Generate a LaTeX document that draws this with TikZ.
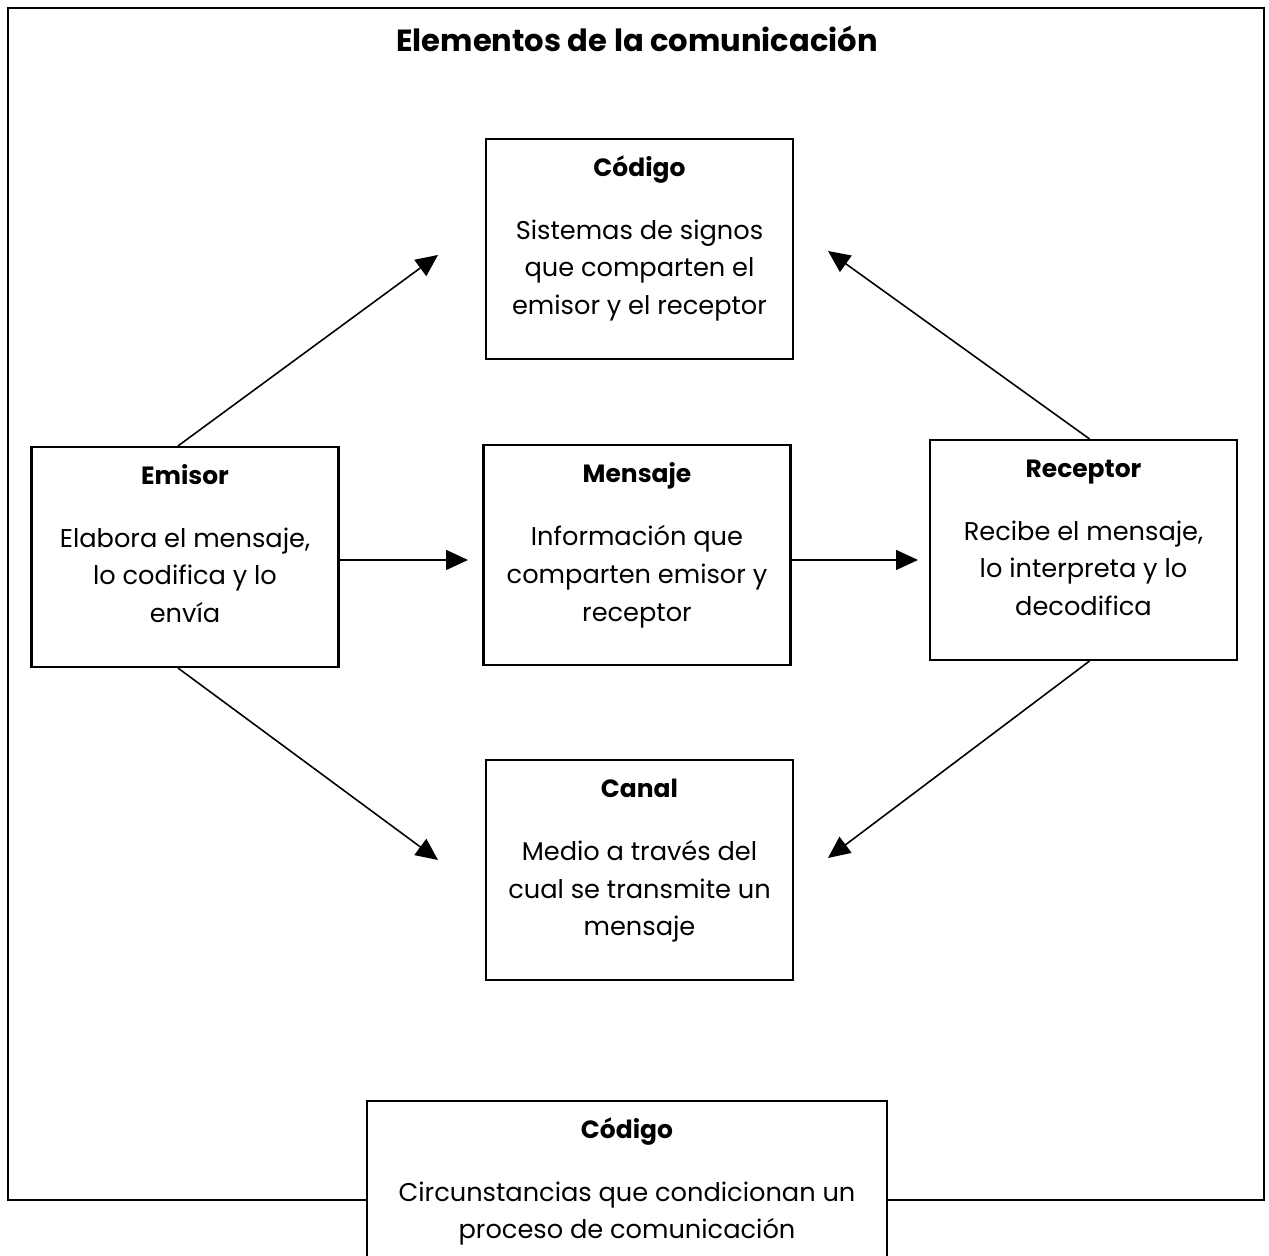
\documentclass[tikz,border=0pt]{standalone}
\usepackage{fontspec}
\setmainfont{Poppins}
\usetikzlibrary{arrows.meta}
\usetikzlibrary{positioning}
\tikzset{
  box/.style={draw, line width=0.6pt, minimum width=3.07cm, minimum height=2.2cm, inner sep=0pt},
  head/.style={font=\fontsize{7.1pt}{10.7pt}\selectfont\bfseries, anchor=base, inner sep=0pt},
  body/.style={font=\fontsize{7.3pt}{10.7pt}\selectfont, align=center, anchor=north, inner sep=0pt},
  arr/.style={-{Triangle[length=0.22cm,width=0.2cm]}, line width=0.45pt}
}

\begin{document}
\begin{tikzpicture}
      \useasboundingbox (0, 0) rectangle (12.69, 12.56);

      \draw [line width=0.6pt] (0.08, 0.56) rectangle (12.64, 12.48);
      \node [font=\fontsize{8.7pt}{11pt}\selectfont\bfseries] (title) at (6.37, 12.17) {Elementos de la comunicación};

      \node [box] (codigo) at (6.395, 10.07) {};
      \node [head] (codigo-h) at ([yshift=-0.39cm]codigo.north) {Código};
      \node [body, below=0.81cm of codigo.north] (codigo-b) {Sistemas de signos\\que comparten el\\emisor y el receptor};

      \node [box] (emisor) at (1.85, 6.99) {};
      \node [head] (emisor-h) at ([yshift=-0.39cm]emisor.north) {Emisor};
      \node [body, below=0.81cm of emisor.north] (emisor-b) {Elabora el mensaje,\\lo codifica y lo\\envía};

      \node [box] (mensaje) at (6.37, 7.01) {};
      \node [head] (mensaje-h) at ([yshift=-0.39cm]mensaje.north) {Mensaje};
      \node [body, below=0.81cm of mensaje.north] (mensaje-b) {Información que\\comparten emisor y\\receptor};

      \node [box] (receptor) at (10.835, 7.06) {};
      \node [head] (receptor-h) at ([yshift=-0.39cm]receptor.north) {Receptor};
      \node [body, below=0.81cm of receptor.north] (receptor-b) {Recibe el mensaje,\\lo interpreta y lo\\decodifica};

      \node [box] (canal) at (6.395, 3.86) {};
      \node [head] (canal-h) at ([yshift=-0.39cm]canal.north) {Canal};
      \node [body, below=0.81cm of canal.north] (canal-b) {Medio a través del\\cual se transmite un\\mensaje};

      \node [box, fill=white, minimum width=5.2cm] (contexto) at (6.27, 0.45) {};
      \node [head] (contexto-h) at ([yshift=-0.39cm]contexto.north) {Código};
      \node [body, below=0.81cm of contexto.north] (contexto-b) {Circunstancias que condicionan un\\proceso de comunicación};

      \coordinate (a1) at (4.38, 10.01);
      \coordinate (a2) at (4.38, 3.96);
      \coordinate (a3) at (8.28, 10.05);
      \coordinate (a4) at (8.28, 3.98);

      \draw [arr] ([xshift=-0.07cm]emisor.north) -- (a1);
      \draw [arr] ([xshift=-0.07cm]emisor.south) -- (a2);
      \draw [arr] (emisor.east |- 0, 6.96) -- (4.68, 6.96);
      \draw [arr] (mensaje.east |- 0, 6.96) -- (9.18, 6.96);
      \draw [arr] ([xshift=0.06cm]receptor.north) -- (a3);
      \draw [arr] ([xshift=0.06cm]receptor.south) -- (a4);
    \end{tikzpicture}
\end{document}
